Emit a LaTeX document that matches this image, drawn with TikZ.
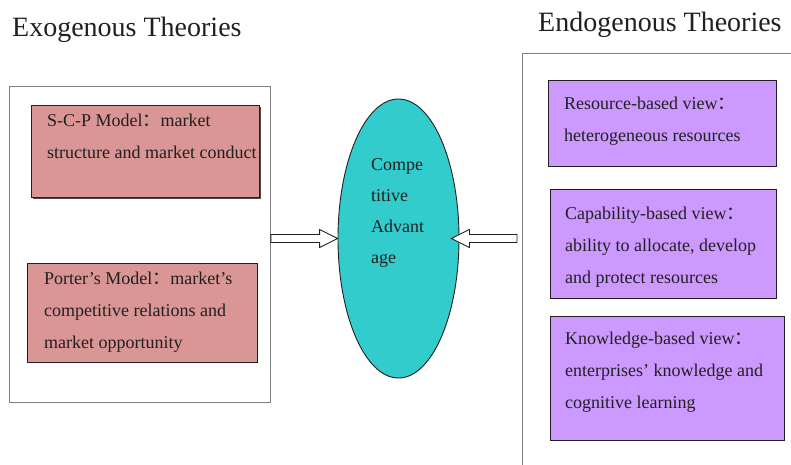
\documentclass[tikz,border=0pt]{standalone}
\usepackage{fontspec}
\setmainfont{Liberation Serif}
\newfontfamily\cjk{Noto Sans CJK SC}
\usetikzlibrary{shapes.geometric,calc,shadows}

\definecolor{modelred}{RGB}{217,150,148}
\definecolor{viewpurple}{RGB}{204,153,255}
\definecolor{advteal}{RGB}{51,204,204}
\definecolor{framegray}{RGB}{128,128,128}
\definecolor{inkgray}{RGB}{35,31,32}

\newcommand{\fwcolon}{{\cjk ：}}

\tikzset{
  theory/.style={draw=framegray, line width=0.9pt, anchor=north west, inner sep=0},
  model/.style={draw=inkgray, line width=0.9pt, fill=modelred, anchor=north west, inner sep=0},
  view/.style={draw=inkgray, line width=0.9pt, fill=viewpurple, anchor=north west, inner sep=0},
  title/.style={anchor=base west, inner sep=0, text=inkgray, font=\fontsize{28}{32}\selectfont},
  % base of a multi-line node is the baseline of its last line
  boxtext/.style={anchor=base west, align=left, inner sep=0, text=inkgray, font=\fontsize{18}{32}\selectfont},
  hollow/.style={draw=inkgray, line width=0.9pt, fill=white, line join=miter},
}

\begin{document}
\begin{tikzpicture}[x=1pt, y=-1pt]
    \useasboundingbox (0,0) rectangle (791,464);

    % headings
    \node[title] (exo) at (12,36) {Exogenous Theories};
    \node[title] (endo) at (538,31.5) {Endogenous Theories};

    % outer frames
    \node[theory, minimum width=261, minimum height=316] (lframe) at (9,86) {};
    \node[theory, minimum width=300, minimum height=430] (rframe) at (522,53) {};

    % exogenous models
    \node[model, minimum width=228, minimum height=92,
          drop shadow={shadow xshift=1.5pt, shadow yshift=-1.5pt, fill=inkgray, opacity=0.8}] (scp) at (31,105) {};
    \node[boxtext] (scptxt) at (47,158) {S-C-P Model\fwcolon market\\structure and market conduct};
    \node[model, minimum width=230, minimum height=99] (porter) at (27,263) {};
    \node[boxtext] (portertxt) at (44,348) {Porter’s Model\fwcolon market’s\\competitive relations and\\market opportunity};

    % endogenous views
    \node[view, minimum width=228, minimum height=86] (rbv) at (548,80) {};
    \node[boxtext] (rbvtxt) at (564,141) {Resource-based view\fwcolon\\heterogeneous resources};
    \node[view, minimum width=226, minimum height=109] (cbv) at (550,189) {};
    \node[boxtext] (cbvtxt) at (565,283) {Capability-based view\fwcolon\\ability to allocate, develop\\and protect resources};
    \node[view, minimum width=234, minimum height=124] (kbv) at (550,316) {};
    \node[boxtext] (kbvtxt) at (565,408) {Knowledge-based view\fwcolon\\enterprises’ knowledge and\\cognitive learning};

    % competitive advantage
    \node[ellipse, draw=inkgray, line width=0.9pt, fill=advteal, inner sep=0,
          minimum width=121, minimum height=279] (adv) at (398.5,238.5) {};
    \node[boxtext, font=\fontsize{18}{31}\selectfont] (advtxt) at (371,263) {Compe\\titive\\Advant\\age};

    % hollow arrows into the ellipse
    \coordinate (la) at (lframe.east |- adv.west);
    \coordinate (lb) at (adv.west);
    \draw[hollow] ($(la)+(0,-4)$) -- ($(lb)+(-18,-4)$) -- ($(lb)+(-18,-9)$) -- (lb)
        -- ($(lb)+(-18,9)$) -- ($(lb)+(-18,4)$) -- ($(la)+(0,4)$) -- cycle;
    \coordinate (ra) at ($(rframe.west |- adv.east)+(-5,0)$);
    \coordinate (rb) at ($(adv.east)+(-8,0)$);
    \draw[hollow] ($(ra)+(0,-4)$) -- ($(rb)+(18,-4)$) -- ($(rb)+(18,-9)$) -- (rb)
        -- ($(rb)+(18,9)$) -- ($(rb)+(18,4)$) -- ($(ra)+(0,4)$) -- cycle;
\end{tikzpicture}
\end{document}
